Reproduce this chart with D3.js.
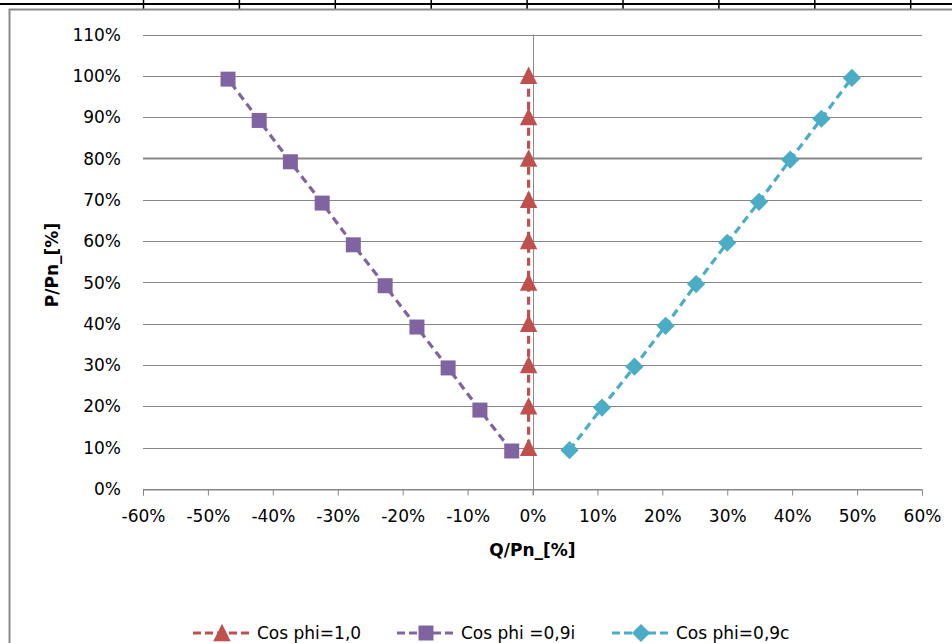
<!DOCTYPE html>
<html>
<head>
<meta charset="utf-8">
<script src="https://cdn.jsdelivr.net/npm/d3@7"></script>
<style>
  html, body { margin: 0; padding: 0; background: #fff; }
  svg { display: block; }
  text { font-family: "DejaVu Sans", "Open Sans", sans-serif; fill: #000; }
</style>
</head>
<body>
<svg id="chart" width="952" height="643"></svg>
<script>
// ---- data ----
const seriesNames = ["Cos phi=1,0", "Cos phi =0,9i", "Cos phi=0,9c"];
const qCos10 = [-0.006, -0.006, -0.006, -0.006, -0.006, -0.006, -0.006, -0.006, -0.006, -0.006];
const pCos10 = [0.10, 0.20, 0.30, 0.40, 0.50, 0.60, 0.70, 0.80, 0.90, 1.00];
const qCos09i = [-0.032, -0.081, -0.130, -0.178, -0.227, -0.276, -0.324, -0.373, -0.421, -0.469];
const pCos09i = [0.092, 0.191, 0.293, 0.392, 0.492, 0.591, 0.692, 0.792, 0.892, 0.992];
const qCos09c = [0.057, 0.107, 0.157, 0.205, 0.252, 0.300, 0.349, 0.397, 0.445, 0.492];
const pCos09c = [0.094, 0.197, 0.296, 0.395, 0.496, 0.596, 0.695, 0.797, 0.896, 0.995];
const xTicks = [-0.6, -0.5, -0.4, -0.3, -0.2, -0.1, 0, 0.1, 0.2, 0.3, 0.4, 0.5, 0.6];
const yTicks = [0, 0.1, 0.2, 0.3, 0.4, 0.5, 0.6, 0.7, 0.8, 0.9, 1.0, 1.1];
const xTitle = "Q/Pn_[%]";
const yTitle = "P/Pn_[%]";
const colors = ["#C0504D", "#8064A2", "#4BACC6"];

const series = [
  { name: seriesNames[0], pts: qCos10.map((q, i) => ({ q, p: pCos10[i] })) },
  { name: seriesNames[1], pts: qCos09i.map((q, i) => ({ q, p: pCos09i[i] })) },
  { name: seriesNames[2], pts: qCos09c.map((q, i) => ({ q, p: pCos09c[i] })) }
];

// marker shapes
const diamondType = {
  draw(ctx, size) {
    const r = Math.sqrt(size) / 2 * Math.SQRT2;
    ctx.moveTo(0, -r); ctx.lineTo(r, 0); ctx.lineTo(0, r); ctx.lineTo(-r, 0); ctx.closePath();
  }
};
const triType = {
  draw(ctx, size) {
    const h = Math.sqrt(size);
    ctx.moveTo(0, -h / 2 - 1); ctx.lineTo(h / 2 + 0.5, h / 2); ctx.lineTo(-h / 2 - 0.5, h / 2); ctx.closePath();
  }
};
const shapes = [triType, d3.symbolSquare, diamondType];
const symSizes = [270, 225, 165];

const svg = d3.select("#chart");
const x = d3.scaleLinear().domain([-0.6, 0.6]).range([143, 922]);
const y = d3.scaleLinear().domain([0, 1.1]).range([489, 34.5]);
const pct = d => Math.round(d * 100) + "%";
const FS = 17;
const TXT = "#1a1a1a";

// spreadsheet cell borders at top
svg.append("line").attr("x1", 0).attr("x2", 952).attr("y1", 4).attr("y2", 4)
  .attr("stroke", "#000").attr("stroke-width", 2);
svg.selectAll("line.cell").data(d3.range(9)).join("line").attr("class", "cell")
  .attr("x1", i => 143.5 + i * 95.9).attr("x2", i => 143.5 + i * 95.9)
  .attr("y1", 0).attr("y2", 9).attr("stroke", "#000").attr("stroke-width", 1.5);

// chart border
svg.append("rect").attr("x", 9.5).attr("y", 9.5).attr("width", 960).attr("height", 660)
  .attr("fill", "#fff").attr("stroke", "#8a8a8a").attr("stroke-width", 2);

// horizontal gridlines
svg.append("g").selectAll("line").data(yTicks).join("line")
  .attr("x1", x(-0.6)).attr("x2", x(0.6))
  .attr("y1", d => Math.round(y(d)) + 0.5).attr("y2", d => Math.round(y(d)) + 0.5)
  .attr("stroke", "#868686")
  .attr("stroke-width", d => Math.abs(d - 0.8) < 1e-9 ? 2 : 1);

// y tick labels
svg.append("g").selectAll("text").data(yTicks).join("text")
  .attr("x", 121).attr("y", d => y(d)).attr("dy", "0.36em")
  .attr("text-anchor", "end").attr("font-size", FS).attr("fill", TXT)
  .text(pct);

// vertical axis at x = 0
svg.append("line").attr("x1", Math.round(x(0)) + 0.5).attr("x2", Math.round(x(0)) + 0.5)
  .attr("y1", y(1.1)).attr("y2", y(0) + 6).attr("stroke", "#8a8a8a").attr("stroke-width", 1);

// x axis via d3 axis
const xAxis = d3.axisBottom(x).tickValues(xTicks).tickFormat(pct).tickSize(6).tickPadding(14);
const gx = svg.append("g").attr("transform", `translate(0,${Math.round(y(0)) + 0.5})`).call(xAxis);
gx.select(".domain").attr("stroke", "#868686");
gx.selectAll(".tick line").attr("stroke", "#868686");
gx.selectAll(".tick text").attr("font-size", FS).attr("font-family", "'DejaVu Sans', sans-serif").attr("fill", TXT);

// axis titles
svg.append("text").attr("x", x(0)).attr("y", 556).attr("text-anchor", "middle")
  .attr("font-size", FS).attr("font-weight", "bold").text(xTitle);
svg.append("text").attr("transform", "translate(58,265) rotate(-90)")
  .attr("text-anchor", "middle").attr("font-size", FS).attr("font-weight", "bold").text(yTitle);

// series lines
const line = d3.line().x(d => x(d.q)).y(d => y(d.p));
series.forEach((s, i) => {
  svg.append("path").datum(s.pts).attr("d", line)
    .attr("fill", "none").attr("stroke", colors[i]).attr("stroke-width", 3.2)
    .attr("stroke-dasharray", "8,5");
});
series.forEach((s, i) => {
  const sym = d3.symbol().type(shapes[i]).size(symSizes[i]);
  svg.append("g").selectAll("path").data(s.pts).join("path")
    .attr("transform", d => `translate(${x(d.q)},${y(d.p)})`)
    .attr("d", sym).attr("fill", colors[i]);
});

// legend
const legendX = [193, 397, 612];
const lg = svg.append("g");
series.forEach((s, i) => {
  const g = lg.append("g").attr("transform", `translate(${legendX[i]},633)`);
  g.append("line").attr("x1", 0).attr("x2", 58).attr("y1", 0).attr("y2", 0)
    .attr("stroke", colors[i]).attr("stroke-width", 3.2).attr("stroke-dasharray", "8,4");
  g.append("path").attr("transform", "translate(29,0)")
    .attr("d", d3.symbol().type(shapes[i]).size(symSizes[i])()).attr("fill", colors[i]);
  g.append("text").attr("x", 64).attr("y", 0).attr("dy", "0.36em")
    .attr("font-size", FS).attr("fill", TXT).text(s.name);
});
</script>
</body>
</html>
